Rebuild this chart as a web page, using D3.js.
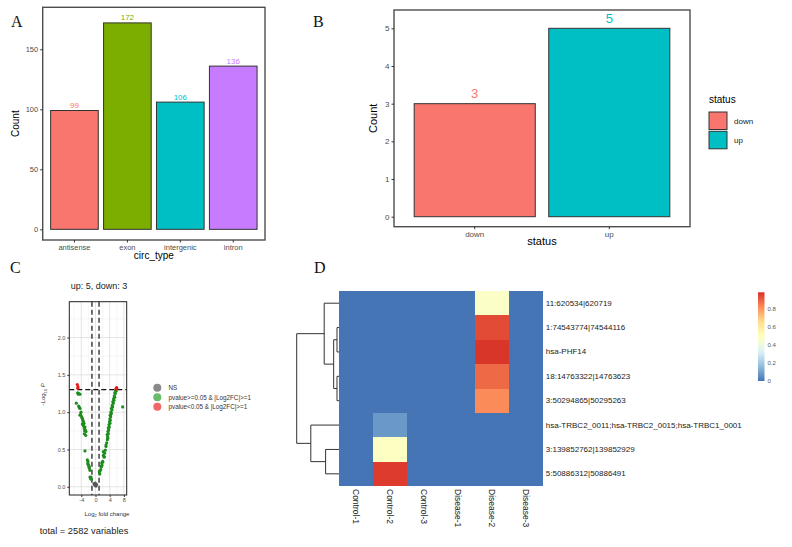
<!DOCTYPE html>
<html>
<head>
<meta charset="utf-8">
<script src="https://cdn.jsdelivr.net/npm/d3@7"></script>
<style>
  body { margin: 0; background: #fff; }
  text { font-family: "Liberation Sans", Arial, sans-serif; }
</style>
</head>
<body>
<svg id="chart" width="792" height="547"></svg>
<script>
// ---- panel A data
const circTypes = ["antisense", "exon", "intergenic", "intron"];
const circCounts = [99, 172, 106, 136];
const circColors = ["#F8766D", "#7CAE00", "#00BFC4", "#C77CFF"];
const circTicks = [0, 50, 100, 150];

// ---- panel B data
const statusCats = ["down", "up"];
const statusCounts = [3, 5];
const statusColors = ["#F8766D", "#00BFC4"];
const statusTicks = [0, 1, 2, 3, 4, 5];

// ---- panel C data (log2FC, -log10 p)
const nsPoints = [[-0.42, 0.04], [-0.14, 0.02], [0.14, 0.01], [-0.05, 0.05], [0.3, 0.03]];
const greenPoints = [
  [-5.40, 1.12], [-5.02, 1.26], [-4.85, 1.24], [-4.65, 1.25], [-4.37, 1.24], [-4.74, 1.08],
  [-4.55, 1.06], [-4.37, 1.05], [-4.08, 1.00], [-4.20, 0.97], [-4.37, 0.96], [-3.90, 0.94],
  [-3.75, 0.92], [-3.62, 0.90], [-3.50, 0.88], [-3.43, 0.87], [-3.24, 0.85], [-3.71, 0.84],
  [-3.43, 0.83], [-3.30, 0.81], [-2.96, 0.80], [-3.15, 0.78], [-2.86, 0.76], [-3.05, 0.75],
  [-2.68, 0.74], [-3.15, 0.71], [-2.77, 0.69], [-2.96, 0.48], [-2.30, 0.36], [-2.11, 0.34],
  [-2.02, 0.30], [-2.20, 0.31], [-1.92, 0.28], [-1.74, 0.25], [-1.75, 0.27], [-1.55, 0.22],
  [-1.55, 0.13], [-1.36, 0.11], [-1.27, 0.13], [-1.20, 0.10],
  [1.07, 0.20], [1.27, 0.21], [1.20, 0.17], [1.46, 0.23], [1.55, 0.27], [1.64, 0.27],
  [1.83, 0.29], [1.75, 0.32], [2.02, 0.34], [2.00, 0.33], [2.21, 0.42], [2.39, 0.40],
  [2.20, 0.47], [2.50, 0.40], [2.58, 0.45], [2.77, 0.49], [2.96, 0.54], [2.96, 0.56],
  [3.15, 0.59], [3.33, 0.63], [3.43, 0.65], [3.43, 0.67], [3.30, 0.70], [3.62, 0.71],
  [3.50, 0.74], [3.71, 0.76], [3.60, 0.79], [3.90, 0.80], [3.80, 0.83], [4.08, 0.85],
  [3.95, 0.87], [4.18, 0.89], [4.05, 0.91], [4.27, 0.94], [4.15, 0.96], [4.46, 0.98],
  [4.35, 1.00], [4.65, 1.03], [4.50, 1.05], [4.84, 1.07], [4.70, 1.09], [5.02, 1.12],
  [4.90, 1.14], [5.21, 1.16], [5.10, 1.18], [5.40, 1.20], [5.30, 1.22], [5.59, 1.25],
  [5.45, 1.26], [5.77, 1.28], [5.65, 1.29], [7.65, 1.07]
];
const redPoints = [[-5.12, 1.37], [-4.93, 1.34], [-5.0, 1.32],
  [5.96, 1.33], [5.90, 1.32], [5.85, 1.31], [6.0, 1.31], [5.8, 1.315]];
const volcXMajor = [-4, 0, 4, 8];
const volcXMinor = [-6, -2, 2, 6];
const volcYMajor = [0, 0.5, 1, 1.5, 2];
const volcYMinor = [0.25, 0.75, 1.25, 1.75, 2.25];
const fcCut = 1;
const pCut = 1.301;
const volcLegend = ["NS", "pvalue>=0.05 & |Log2FC|>=1", "pvalue<0.05 & |Log2FC|>=1"];

// ---- panel D data
const heatCols = ["Control-1", "Control-2", "Control-3", "Disease-1", "Disease-2", "Disease-3"];
const heatRows = ["11:620534|620719", "1:74543774|74544116", "hsa-PHF14", "18:14763322|14763623",
  "3:50294865|50295263", "hsa-TRBC2_0011;hsa-TRBC2_0015;hsa-TRBC1_0001",
  "3:139852762|139852929", "5:50886312|50886491"];
const heatValues = [
  [0, 0, 0, 0, 0.47, 0],
  [0, 0, 0, 0, 0.93, 0],
  [0, 0, 0, 0, 0.97, 0],
  [0, 0, 0, 0, 0.88, 0],
  [0, 0, 0, 0, 0.82, 0],
  [0, 0.08, 0, 0, 0, 0],
  [0, 0.48, 0, 0, 0, 0],
  [0, 0.96, 0, 0, 0, 0]
];
// row clustering (leaves are row indexes)
const rowTree = { h: 4.2, c: [
  { h: 1.47, c: [0, { h: 0.53, c: [{ h: 0.2, c: [1, 2] }, { h: 0.2, c: [3, 4] }] }] },
  { h: 2.8, c: [5, { h: 1.33, c: [6, 7] }] }
] };
const legendTicks = [0, 0.2, 0.4, 0.6, 0.8];

const svg = d3.select("#chart");
svg.append("rect").attr("width", 792).attr("height", 547).attr("fill", "#fff");

function panelLabel(t, x, y) {
  svg.append("text").attr("x", x).attr("y", y)
    .style("font-family", "'Liberation Serif', 'Times New Roman', serif")
    .attr("font-size", 16).attr("fill", "#111").text(t);
}
function styleAxis(g, size) {
  g.select(".domain").remove();
  g.selectAll("line").attr("stroke", "#333");
  g.selectAll("text").attr("font-size", size).attr("fill", "#4D4D4D")
    .style("font-family", "'Liberation Sans', Arial, sans-serif");
}

// =========== A
panelLabel("A", 11, 27);
const aL = 42.7, aR = 265, aT = 7.3, aB = 240;
const ax = d3.scaleBand().domain(circTypes).range([aL, aR]).paddingInner(0.1).paddingOuter(0.15);
const ay = d3.scaleLinear().domain([-8.9, 185]).range([aB, aT]);
const gA = svg.append("g");
gA.selectAll("rect.bar").data(circTypes).join("rect")
  .attr("x", d => ax(d)).attr("width", ax.bandwidth())
  .attr("y", (d, i) => ay(circCounts[i])).attr("height", (d, i) => ay(0) - ay(circCounts[i]))
  .attr("fill", (d, i) => circColors[i]).attr("stroke", "#333").attr("stroke-width", 1);
gA.selectAll("text.val").data(circTypes).join("text")
  .attr("x", d => ax(d) + ax.bandwidth() / 2).attr("y", (d, i) => ay(circCounts[i]) - 2.5)
  .attr("text-anchor", "middle").attr("font-size", 8).attr("fill", (d, i) => circColors[i])
  .text((d, i) => circCounts[i]);
gA.append("rect").attr("x", aL).attr("y", aT).attr("width", aR - aL).attr("height", aB - aT)
  .attr("fill", "none").attr("stroke", "#4D4D4D").attr("stroke-width", 1.4);
gA.append("g").attr("transform", `translate(${aL},0)`)
  .call(d3.axisLeft(ay).tickValues(circTicks).tickSize(2.5).tickPadding(2))
  .call(g => styleAxis(g, 7.5));
gA.append("g").attr("transform", `translate(0,${aB})`)
  .call(d3.axisBottom(ax).tickSize(2.5).tickPadding(2))
  .call(g => styleAxis(g, 7.5));
gA.append("text").attr("transform", `translate(19,${(aT + aB) / 2}) rotate(-90)`)
  .attr("text-anchor", "middle").attr("font-size", 10).text("Count");
gA.append("text").attr("x", (aL + aR) / 2).attr("y", 259)
  .attr("text-anchor", "middle").attr("font-size", 10).text("circ_type");

// =========== B
panelLabel("B", 313, 27);
const bL = 394, bR = 690, bT = 10, bB = 226.7;
const bx = d3.scaleBand().domain(statusCats).range([bL, bR]).paddingInner(0.1).paddingOuter(0.15);
const by = d3.scaleLinear().domain([-0.265, 5.486]).range([bB, bT]);
const gB = svg.append("g");
gB.selectAll("rect.bar").data(statusCats).join("rect")
  .attr("x", d => bx(d)).attr("width", bx.bandwidth())
  .attr("y", (d, i) => by(statusCounts[i])).attr("height", (d, i) => by(0) - by(statusCounts[i]))
  .attr("fill", (d, i) => statusColors[i]).attr("stroke", "#333").attr("stroke-width", 1);
gB.selectAll("text.val").data(statusCats).join("text")
  .attr("x", d => bx(d) + bx.bandwidth() / 2).attr("y", (d, i) => by(statusCounts[i]) - 5.5)
  .attr("text-anchor", "middle").attr("font-size", 13).attr("fill", (d, i) => statusColors[i])
  .text((d, i) => statusCounts[i]);
gB.append("rect").attr("x", bL).attr("y", bT).attr("width", bR - bL).attr("height", bB - bT)
  .attr("fill", "none").attr("stroke", "#4D4D4D").attr("stroke-width", 1.4);
gB.append("g").attr("transform", `translate(${bL},0)`)
  .call(d3.axisLeft(by).tickValues(statusTicks).tickFormat(d3.format("d")).tickSize(2.5).tickPadding(2))
  .call(g => styleAxis(g, 8));
gB.append("g").attr("transform", `translate(0,${bB})`)
  .call(d3.axisBottom(bx).tickSize(2.5).tickPadding(2))
  .call(g => styleAxis(g, 8));
gB.append("text").attr("transform", `translate(377,${(bT + bB) / 2}) rotate(-90)`)
  .attr("text-anchor", "middle").attr("font-size", 11).text("Count");
gB.append("text").attr("x", (bL + bR) / 2).attr("y", 245)
  .attr("text-anchor", "middle").attr("font-size", 11).text("status");
// legend
gB.append("text").attr("x", 709).attr("y", 103).attr("font-size", 10).text("status");
statusCats.forEach((s, i) => {
  gB.append("rect").attr("x", 709).attr("y", 112 + i * 19.3).attr("width", 18).attr("height", 17.5)
    .attr("fill", statusColors[i]).attr("stroke", "#333").attr("stroke-width", 1);
  gB.append("text").attr("x", 734).attr("y", 124 + i * 19.3).attr("font-size", 8)
    .attr("fill", "#222").text(s);
});

// =========== C
panelLabel("C", 10, 273);
const cL = 69.3, cR = 126.7, cT = 301.7, cB = 495;
const cx = d3.scaleLinear().domain([-7.38, 8.79]).range([cL, cR]);
const cy = d3.scaleLinear().domain([-0.11, 2.48]).range([cB, cT]);
const gC = svg.append("g");
gC.append("text").attr("x", 99).attr("y", 288.5).attr("text-anchor", "middle")
  .attr("font-size", 9).attr("fill", "#222").text("up: 5, down: 3");
gC.selectAll("line.xmin").data(volcXMinor).join("line")
  .attr("x1", d => cx(d)).attr("x2", d => cx(d)).attr("y1", cT).attr("y2", cB)
  .attr("stroke", "#EDEDED").attr("stroke-width", 0.5);
gC.selectAll("line.ymin").data(volcYMinor).join("line")
  .attr("y1", d => cy(d)).attr("y2", d => cy(d)).attr("x1", cL).attr("x2", cR)
  .attr("stroke", "#EDEDED").attr("stroke-width", 0.5);
gC.selectAll("line.xmaj").data(volcXMajor).join("line")
  .attr("x1", d => cx(d)).attr("x2", d => cx(d)).attr("y1", cT).attr("y2", cB)
  .attr("stroke", "#DDDDDD").attr("stroke-width", 0.8);
gC.selectAll("line.ymaj").data(volcYMajor).join("line")
  .attr("y1", d => cy(d)).attr("y2", d => cy(d)).attr("x1", cL).attr("x2", cR)
  .attr("stroke", "#DDDDDD").attr("stroke-width", 0.8);
[-fcCut, fcCut].forEach(v => {
  gC.append("line").attr("x1", cx(v)).attr("x2", cx(v)).attr("y1", cT).attr("y2", cB)
    .attr("stroke", "#111").attr("stroke-width", 1.2).attr("stroke-dasharray", "5,3");
});
gC.append("line").attr("x1", cL).attr("x2", cR).attr("y1", cy(pCut)).attr("y2", cy(pCut))
  .attr("stroke", "#111").attr("stroke-width", 1.2).attr("stroke-dasharray", "5,3");
function dots(pts, color) {
  gC.append("g").selectAll("circle").data(pts).join("circle")
    .attr("cx", d => cx(d[0])).attr("cy", d => cy(d[1])).attr("r", 1.6).attr("fill", color);
}
dots(nsPoints, "#555555");
dots(greenPoints, "#1E8C1E");
dots(redPoints, "#E81818");
gC.append("rect").attr("x", cL).attr("y", cT).attr("width", cR - cL).attr("height", cB - cT)
  .attr("fill", "none").attr("stroke", "#222").attr("stroke-width", 1);
gC.append("g").attr("transform", `translate(${cL},0)`)
  .call(d3.axisLeft(cy).tickValues(volcYMajor).tickFormat(d3.format(".1f")).tickSize(2).tickPadding(2))
  .call(g => styleAxis(g, 5.5));
gC.append("g").attr("transform", `translate(0,${cB})`)
  .call(d3.axisBottom(cx).tickValues(volcXMajor).tickFormat(d => d).tickSize(2).tickPadding(1.5))
  .call(g => styleAxis(g, 5.5));
const yt = gC.append("text").attr("transform", `translate(45,${(cT + cB) / 2 - 4}) rotate(-90)`)
  .attr("text-anchor", "middle").attr("font-size", 6).attr("fill", "#333");
yt.append("tspan").text("-Log");
yt.append("tspan").attr("font-size", 4).attr("dy", 1.5).text("10");
yt.append("tspan").attr("dy", -1.5).attr("font-style", "italic").text(" P");
const xt = gC.append("text").attr("x", 107).attr("y", 515.5)
  .attr("text-anchor", "middle").attr("font-size", 6).attr("fill", "#333");
xt.append("tspan").text("Log");
xt.append("tspan").attr("font-size", 4).attr("dy", 1.5).text("2");
xt.append("tspan").attr("dy", -1.5).text(" fold change");
gC.append("text").attr("x", 84).attr("y", 533.5).attr("text-anchor", "middle")
  .attr("font-size", 9.3).attr("fill", "#222").text("total = 2582 variables");
const legCols = ["#8A8A8A", "#69BC69", "#F26868"];
volcLegend.forEach((s, i) => {
  gC.append("circle").attr("cx", 157.3).attr("cy", 387.7 + i * 9.5).attr("r", 4).attr("fill", legCols[i]);
  gC.append("text").attr("x", 168.5).attr("y", 390 + i * 9.5).attr("font-size", 6.3)
    .attr("fill", "#333").text(s);
});

// =========== D
panelLabel("D", 314, 273);
const hL = 339, hR = 543.3, hT = 291, hB = 486;
const hx = d3.scaleBand().domain(heatCols).range([hL, hR]);
const hy = d3.scaleBand().domain(heatRows).range([hT, hB]);
const heatMax = 0.98;
const heatColor = d3.scaleLinear()
  .domain(d3.range(7).map(i => i * heatMax / 6))
  .range(["#4575B4", "#91BFDB", "#E0F3F8", "#FFFFBF", "#FEE090", "#FC8D59", "#D73027"]);
const gD = svg.append("g");
const cells = gD.append("g").attr("shape-rendering", "crispEdges");
heatRows.forEach((r, i) => {
  heatCols.forEach((c, j) => {
    cells.append("rect").attr("x", hx(c)).attr("y", hy(r))
      .attr("width", hx.bandwidth()).attr("height", hy.bandwidth())
      .attr("fill", heatColor(heatValues[i][j]));
  });
});
gD.selectAll("text.row").data(heatRows).join("text")
  .attr("x", hR + 2.5).attr("y", d => hy(d) + hy.bandwidth() / 2)
  .attr("dominant-baseline", "central").attr("font-size", 8).attr("fill", "#222").text(d => d);
gD.selectAll("text.col").data(heatCols).join("text")
  .attr("transform", d => `translate(${hx(d) + hx.bandwidth() / 2},${hB + 3}) rotate(90)`)
  .attr("dominant-baseline", "central").attr("font-size", 8.5).attr("fill", "#222").text(d => d);
// dendrogram
const dx = d3.scaleLinear().domain([0, rowTree.h]).range([hL, 296.7]);
function drawNode(n) {
  if (typeof n === "number") return { x: hL, y: hy(heatRows[n]) + hy.bandwidth() / 2 };
  const kids = n.c.map(drawNode);
  const x = dx(n.h);
  const y0 = kids[0].y, y1 = kids[1].y;
  const path = d3.path();
  path.moveTo(kids[0].x, y0); path.lineTo(x, y0); path.lineTo(x, y1); path.lineTo(kids[1].x, y1);
  gD.append("path").attr("d", path.toString()).attr("fill", "none")
    .attr("stroke", "#333").attr("stroke-width", 1);
  return { x: x, y: (y0 + y1) / 2 };
}
drawNode(rowTree);
// colour legend
const ly = d3.scaleLinear().domain([0, heatMax]).range([381, 292.3]);
const grad = svg.append("defs").append("linearGradient").attr("id", "hgrad")
  .attr("x1", 0).attr("y1", 1).attr("x2", 0).attr("y2", 0);
d3.range(0, 1.0001, 0.05).forEach(t => {
  grad.append("stop").attr("offset", t).attr("stop-color", heatColor(t * heatMax));
});
gD.append("rect").attr("x", 758).attr("y", 292.3).attr("width", 6.5).attr("height", 381 - 292.3)
  .attr("fill", "url(#hgrad)");
gD.selectAll("text.leg").data(legendTicks).join("text")
  .attr("x", 767.5).attr("y", d => ly(d)).attr("dominant-baseline", "central")
  .attr("font-size", 6).attr("fill", "#555").text(d => d);
</script>
</body>
</html>
